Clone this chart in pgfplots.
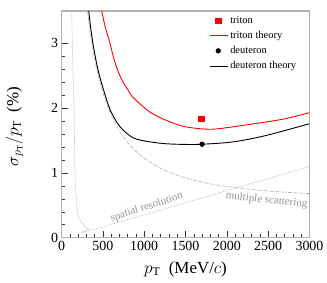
\documentclass[border=0pt]{standalone}
\usepackage{fontspec}
\setmainfont{Liberation Serif}[Ligatures=TeX]
\usepackage{pgfplots}
\pgfplotsset{compat=1.18}
\begin{document}
\begin{tikzpicture}
\useasboundingbox (-61.5bp,-45.3bp) rectangle (265.5bp,237.7bp);
\begin{axis}[at={(0,0)}, anchor=south west, scale only axis,
  width=248bp, height=226.7bp,
  xmin=0, xmax=3000, ymin=0, ymax=3.5,
  xtick={0,500,1000,1500,2000,2500,3000}, ytick={0,1,2,3},
  minor x tick num=4, minor y tick num=4,
  tick pos=left, tick align=inside,
  major tick length=7bp, minor tick length=4bp,
  axis line style={draw=gray!60, line width=1.2bp},
  every tick/.style={gray!40!black, line width=0.5bp},
  tick label style={font=\rmfamily\fontsize{14}{14}\selectfont},
  /pgf/number format/assume math mode=true,
  /pgf/number format/1000 sep={},
  xlabel={$p_{\mathrm{T}}$\ \ (MeV/$c$)},
  ylabel={$\sigma_{p_{\mathrm{T}}}/p_{\mathrm{T}}$\ \ (\%)},
  every axis x label/.style={at={(rel axis cs:0.5,-0.138)}, anchor=center},
  every axis y label/.style={at={(rel axis cs:-0.19,0.49)}, anchor=center, rotate=90},
  label style={font=\rmfamily\fontsize{17}{17}\selectfont},
  legend cell align=left,
  legend style={at={(rel axis cs:0.583,0.995)}, anchor=north west, draw=none, fill=none,
    font=\rmfamily\fontsize{10.5}{12}\selectfont, row sep=2.5bp},
]
% spatial resolution
\addplot[gray!60, densely dotted, line width=0.7bp, smooth, tension=0.4, forget plot] coordinates {
(123,3.5) (140,2.5) (152,2.0) (163,1.0) (175,0.7) (191,0.42) (224,0.27) (284,0.17) (330,0.135) (385,0.125) (3000,1.1)};
% multiple scattering
\addplot[gray!70, dash pattern=on 3bp off 1.2bp on 0.6bp off 1.2bp, line width=0.6bp, smooth, forget plot] coordinates {
(314,3.5) (350,3.146) (400,2.767) (450,2.474) (500,2.241) (600,1.894) (700,1.650) (800,1.471) (900,1.334) (1000,1.227) (1200,1.071) (1400,0.965) (1600,0.889) (1800,0.833) (2000,0.791) (2200,0.758) (2400,0.732) (2600,0.712) (2800,0.695) (3000,0.681)};
% triton theory
\addplot[color=red, line width=0.9bp, smooth, forget plot] coordinates {
(486,3.5) (530,3.25) (587,3.0) (630,2.78) (687,2.56) (750,2.39) (800,2.29) (870,2.16) (1070,1.94) (1270,1.81) (1470,1.72) (1700,1.68) (1880,1.68) (2280,1.75) (2680,1.83) (3000,1.93)};
% deuteron theory
\addplot[color=black, line width=0.9bp, smooth, forget plot] coordinates {
(330,3.5) (350,3.27) (380,3.0) (420,2.72) (450,2.55) (500,2.32) (590,1.97) (710,1.71) (870,1.54) (1070,1.48) (1270,1.45) (1500,1.44) (1700,1.443) (2080,1.48) (2480,1.58) (3000,1.76)};
% data points
\addplot[only marks, mark=square*, mark size=2.6bp, red, draw=red, forget plot] coordinates {(1690,1.84)};
\addplot[only marks, mark=*, mark size=2.4bp, black, forget plot] coordinates {(1700,1.443)};
\addlegendimage{only marks, mark=square*, mark size=2.6bp, red}
\addlegendentry{triton}
\addlegendimage{legend image code/.code={\draw[red, line width=1bp] (0bp,0bp) -- (18bp,0bp);}}
\addlegendentry{triton theory}
\addlegendimage{only marks, mark=*, mark size=2.4bp, black}
\addlegendentry{deuteron}
\addlegendimage{legend image code/.code={\draw[black, line width=1bp] (0bp,0bp) -- (18bp,0bp);}}
\addlegendentry{deuteron theory}
\node[rotate=18, font=\rmfamily\fontsize{11}{11}\selectfont, text=gray!85] at (axis cs:1030,0.47) {spatial resolution};
\node[rotate=-6, font=\rmfamily\fontsize{11}{11}\selectfont, text=gray!85] at (axis cs:2480,0.575) {multiple scattering};
\end{axis}
\end{tikzpicture}
\end{document}
